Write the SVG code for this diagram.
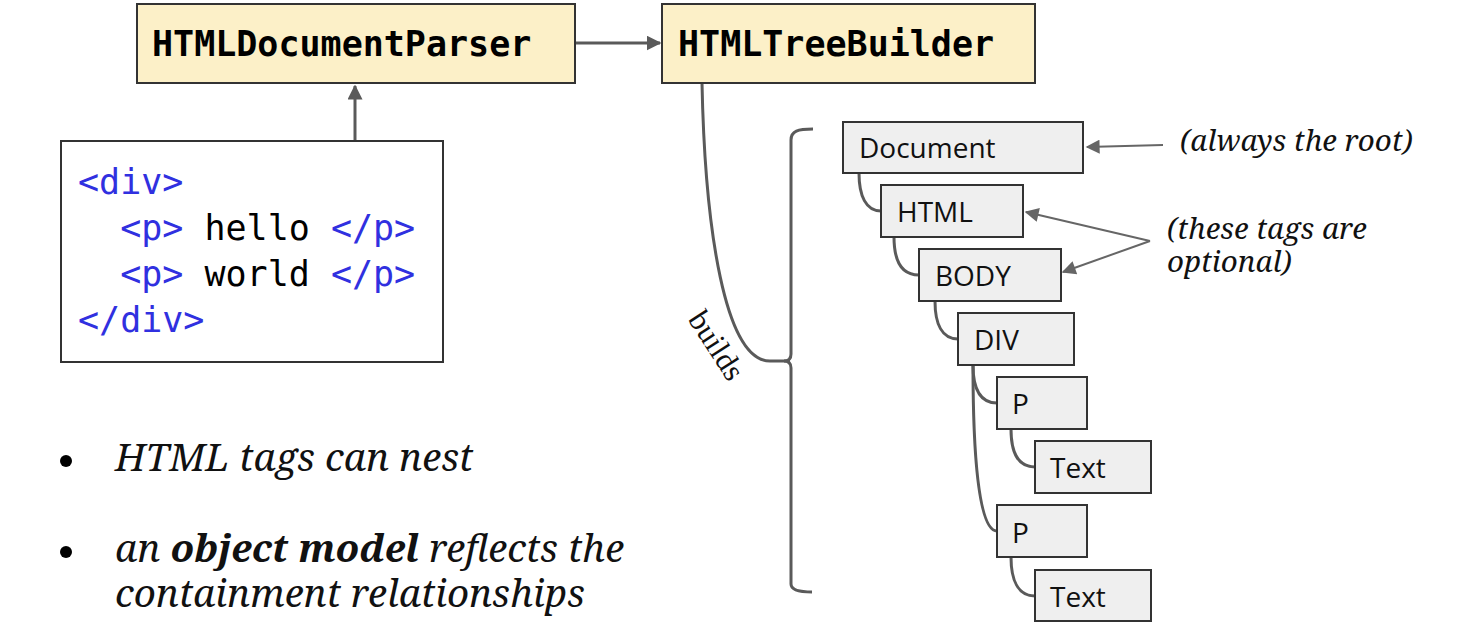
<svg xmlns="http://www.w3.org/2000/svg" width="1458" height="644" viewBox="0 0 1458 644">
<style>
.cls{fill:#fcf0c8;stroke:#333;stroke-width:2}
.code-box{fill:#fff;stroke:#333;stroke-width:2}
.node{fill:#efefef;stroke:#333;stroke-width:2}
.hdr{font-family:"DejaVu Sans Mono",monospace;font-weight:bold;font-size:35px;fill:#000}
.code{font-family:"DejaVu Sans Mono",monospace;font-size:35px;fill:#000}
.tag{fill:#3030e0}
.lbl{font-family:"Open Sans","Noto Sans",sans-serif;font-size:28px;fill:#111}
.note{font-family:"Noto Serif","Liberation Serif",serif;font-style:italic;font-size:29.5px;fill:#111}
.bul{font-family:"Noto Serif","Liberation Serif",serif;font-style:italic;font-size:38.5px;fill:#111}
.conn{fill:none;stroke:#5a5a5a;stroke-width:3}
.thin{fill:none;stroke:#666;stroke-width:2}
</style>
<defs>
<marker id="ah" viewBox="0 0 10 10" refX="9" refY="5" markerWidth="5" markerHeight="5" orient="auto" markerUnits="strokeWidth">
<path d="M0,0 L10,5 L0,10 z" fill="#5a5a5a"/>
</marker>
<marker id="ah2" viewBox="0 0 10 10" refX="9" refY="5" markerWidth="8" markerHeight="7" orient="auto" markerUnits="strokeWidth">
<path d="M0,0 L10,5 L0,10 z" fill="#666"/>
</marker>
</defs>

<g id="connectors">
<path class="conn" d="M575,43 L660,43" marker-end="url(#ah)"/>
<path class="conn" d="M355,141 L355,86" marker-end="url(#ah)"/>
<path class="conn" d="M702,83 C 705,230 725,361 770,361 L790,361"/>
<path class="conn" d="M813,129 C 798,129 791,131 791,140 L791,354 Q791,361 784,361 Q791,361 791,368 L791,584 Q791,592 812,592"/>
<path class="conn" d="M859,173 C 859,196 866,211 881,211"/>
<path class="conn" d="M894,237 C 894,260 901,275 919,275"/>
<path class="conn" d="M935,301 C 935,324 942,339 958,339"/>
<path class="conn" d="M973,365 C 973,388 980,403 997,403"/>
<path class="conn" d="M973,365 C 973,450 978,531 997,531"/>
<path class="conn" d="M1011,429 C 1011,452 1018,467 1035,467"/>
<path class="conn" d="M1011,557 C 1011,580 1018,596 1035,596"/>
<path class="thin" d="M1163,145 L1087,147" marker-end="url(#ah2)"/>
<path class="thin" d="M1150,241 L1026,212" marker-end="url(#ah2)"/>
<path class="thin" d="M1150,241 L1063,272" marker-end="url(#ah2)"/>
</g>

<g id="parser">
<rect class="cls" x="137" y="4" width="438" height="79"/>
<text class="hdr" x="152" y="56">HTMLDocumentParser</text>
</g>
<g id="treebuilder">
<rect class="cls" x="662" y="4" width="373" height="79"/>
<text class="hdr" x="678" y="56">HTMLTreeBuilder</text>
</g>
<g id="code">
<rect class="code-box" x="61" y="141" width="382" height="221"/>
<text class="code" x="78" y="194"><tspan class="tag">&lt;div&gt;</tspan></text>
<text class="code" x="78" y="240" xml:space="preserve"><tspan class="tag">  &lt;p&gt;</tspan> hello <tspan class="tag">&lt;/p&gt;</tspan></text>
<text class="code" x="78" y="286" xml:space="preserve"><tspan class="tag">  &lt;p&gt;</tspan> world <tspan class="tag">&lt;/p&gt;</tspan></text>
<text class="code" x="78" y="332"><tspan class="tag">&lt;/div&gt;</tspan></text>
</g>

<g id="n-document"><rect class="node" x="843" y="122" width="240" height="51"/><text class="lbl" x="859" y="158">Document</text></g>
<g id="n-html"><rect class="node" x="881" y="185" width="142" height="52"/><text class="lbl" x="897" y="222">HTML</text></g>
<g id="n-body"><rect class="node" x="919" y="249" width="142" height="52"/><text class="lbl" x="935" y="286">BODY</text></g>
<g id="n-div"><rect class="node" x="958" y="313" width="116" height="52"/><text class="lbl" x="974" y="350">DIV</text></g>
<g id="n-p1"><rect class="node" x="997" y="377" width="90" height="52"/><text class="lbl" x="1012" y="414">P</text></g>
<g id="n-text1"><rect class="node" x="1035" y="441" width="116" height="52"/><text class="lbl" x="1050" y="478">Text</text></g>
<g id="n-p2"><rect class="node" x="997" y="505" width="90" height="52"/><text class="lbl" x="1012" y="543">P</text></g>
<g id="n-text2"><rect class="node" x="1035" y="570" width="116" height="51"/><text class="lbl" x="1050" y="607">Text</text></g>

<g id="labels">
<text x="0" y="0" transform="translate(708,351) rotate(57)" text-anchor="middle" font-family="Liberation Serif, serif" font-size="31" fill="#111">builds</text>
<text class="note" x="1180" y="151">(always the root)</text>
<text class="note" x="1167" y="239">(these tags are</text>
<text class="note" x="1167" y="272">optional)</text>
</g>

<g id="bullets">
<circle cx="66" cy="461" r="6" fill="#000"/>
<text class="bul" x="115" y="471">HTML tags can nest</text>
<circle cx="66" cy="552" r="6" fill="#000"/>
<text class="bul" x="115" y="562">an <tspan font-weight="bold">object model</tspan> reflects the</text>
<text class="bul" x="115" y="607">containment relationships</text>
</g>
</svg>
